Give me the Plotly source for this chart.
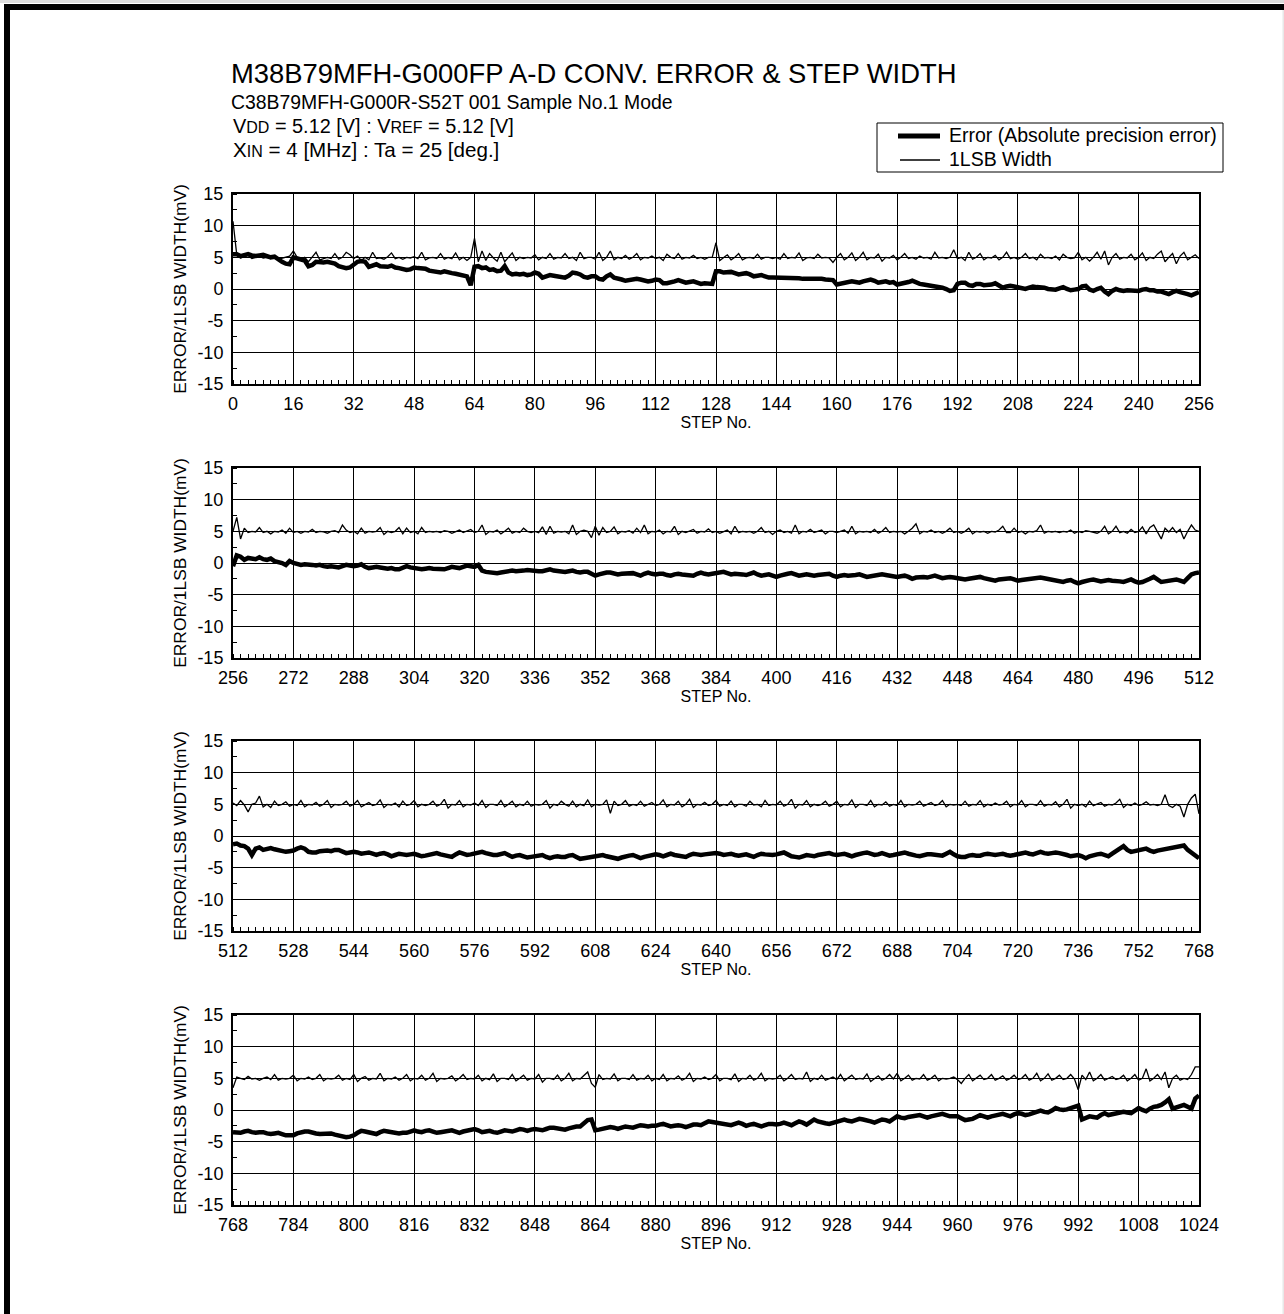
import plotly.graph_objects as go

# ---------------- data (mV per STEP No.) ----------------
# Absolute precision error, steps 0..256
err_0_256 = [
 5.5,5.5,5.2,5.3,5.5,5.3,5.2,5.3,5.4,5.2,5.0,5.1,4.6,4.3,4.0,3.9,
 5.0,4.8,4.6,4.5,3.6,3.8,4.3,4.2,4.2,4.3,4.1,4.0,3.6,3.4,3.3,3.4,
 3.8,4.3,4.4,4.3,3.5,3.7,3.9,3.6,3.6,3.5,3.7,3.4,3.3,3.1,3.0,3.1,
 3.4,3.3,3.2,3.2,2.9,2.8,2.6,2.6,2.8,2.6,2.5,2.4,2.3,2.2,2.0,0.6,
 3.5,3.6,3.3,3.4,3.0,3.1,2.8,2.9,3.6,2.6,2.3,2.4,2.3,2.4,2.2,2.3,
 2.6,2.4,1.8,2.0,2.2,2.1,2.0,1.9,1.8,2.1,2.6,2.5,2.3,1.9,1.8,2.0,
 2.0,1.6,1.5,2.0,2.3,1.8,1.7,1.5,1.3,1.4,1.5,1.6,1.5,1.3,1.2,1.3,
 1.5,1.4,0.9,0.9,1.0,1.2,1.4,1.2,1.0,1.1,1.2,1.0,0.8,0.9,0.9,0.8,
 2.8,2.8,2.6,2.6,2.7,2.5,2.3,2.4,2.5,2.3,2.0,2.1,2.2,2.0,1.8,1.8,
 1.8,1.8,1.7,1.8,1.8,1.7,1.7,1.6,1.6,1.7,1.7,1.6,1.6,1.5,1.5,1.4,
 0.7,0.8,1.0,1.1,1.2,1.1,1.0,1.2,1.3,1.5,1.3,1.0,1.1,1.2,1.0,1.1,
 0.7,0.8,0.9,1.1,1.3,1.0,0.8,0.7,0.6,0.5,0.5,0.3,0.2,0.0,-0.3,-0.2,
 0.8,1.0,1.0,0.6,0.5,0.8,0.8,0.6,0.6,0.7,0.9,0.6,0.2,0.4,0.5,0.4,
 0.3,0.2,0.0,0.2,0.4,0.3,0.3,0.2,0.0,-0.1,-0.1,0.1,0.3,0.0,-0.2,-0.1,
 0.0,0.4,0.5,-0.1,-0.3,0.0,0.2,-0.4,-0.8,-0.3,0.0,-0.2,-0.3,-0.2,-0.2,-0.3,
 -0.3,-0.1,0.0,-0.2,-0.2,-0.4,-0.4,-0.6,-0.8,-0.5,-0.3,-0.5,-0.6,-0.8,-1.0,-0.7,
 -0.5]
# 1LSB width, steps 0..256
wid_0_256 = [
 10.7,5.4,4.9,5.1,5.3,4.8,5.0,5.2,4.9,5.0,4.8,5.1,4.7,4.9,5.0,5.2,
 6.0,5.0,4.6,5.0,4.3,5.0,5.8,4.6,4.8,5.0,4.8,5.6,4.7,5.0,5.8,5.4,
 4.8,5.2,4.5,5.0,4.6,5.8,4.8,4.9,4.7,5.1,5.7,4.8,5.0,4.7,5.0,4.9,
 5.1,4.8,5.8,4.6,4.9,5.0,4.8,5.6,4.7,5.0,4.8,5.7,4.6,5.0,4.5,5.0,
 8.0,4.3,6.0,4.5,5.6,4.9,4.4,5.8,4.3,5.0,5.7,4.5,5.0,4.8,5.0,4.9,
 5.4,4.6,5.0,4.8,5.6,4.7,5.0,4.9,5.6,4.8,5.0,4.5,5.8,4.8,5.0,5.0,
 4.7,5.8,4.5,5.0,6.0,4.6,5.0,4.8,5.3,4.7,5.0,5.6,4.6,5.0,4.9,5.2,
 4.8,5.0,4.5,5.5,5.0,4.8,5.6,4.7,5.0,4.9,5.3,4.8,5.0,4.7,5.0,5.0,
 7.3,4.5,5.0,5.4,4.6,5.0,5.6,4.6,4.9,5.0,4.8,5.5,4.7,5.0,5.0,4.8,
 5.0,4.7,5.6,4.8,5.0,4.9,5.7,4.5,4.9,5.0,4.8,5.5,4.9,5.0,4.9,4.2,
 5.0,5.6,4.6,5.0,5.7,4.5,5.0,5.8,4.6,5.0,4.9,5.5,4.4,5.0,4.9,5.3,
 4.6,5.0,5.6,4.8,5.0,4.7,5.2,4.9,5.0,4.7,5.8,4.9,5.0,4.8,5.0,6.2,
 4.8,5.0,4.5,5.8,4.7,5.0,5.6,4.6,5.0,4.9,5.3,4.6,5.0,5.8,4.8,5.0,
 4.7,5.0,5.6,4.8,5.0,4.6,5.5,4.9,5.0,4.8,5.2,4.6,5.5,5.0,4.8,4.9,
 5.8,4.6,5.0,4.4,5.0,5.8,4.7,6.0,3.8,5.0,5.6,4.7,5.0,4.9,5.5,4.6,
 5.0,5.7,4.5,5.0,4.8,5.5,6.0,4.3,5.0,5.6,4.0,5.2,5.8,4.6,5.0,5.4,
 4.8]

err_256_512 = [
 -0.5,1.2,1.0,0.5,0.8,0.7,0.6,0.9,0.6,0.5,0.7,0.3,0.2,0.0,-0.3,0.3,
 0.0,-0.1,-0.3,-0.2,-0.2,-0.3,-0.4,-0.3,-0.5,-0.6,-0.5,-0.6,-0.7,-0.5,-0.3,-0.4,
 -0.5,-0.4,-0.2,-0.6,-0.8,-0.7,-0.6,-0.7,-0.8,-0.9,-0.8,-1.0,-1.0,-0.8,-0.5,-0.7,
 -0.8,-0.9,-1.0,-0.9,-0.8,-0.9,-0.9,-1.0,-1.0,-0.8,-0.6,-0.7,-0.8,-0.6,-0.4,-0.5,
 -0.6,-0.3,-1.2,-1.4,-1.5,-1.5,-1.6,-1.5,-1.4,-1.3,-1.2,-1.3,-1.3,-1.2,-1.1,-1.2,
 -1.2,-1.3,-1.3,-1.1,-1.0,-1.2,-1.3,-1.3,-1.4,-1.3,-1.2,-1.4,-1.5,-1.4,-1.4,-1.7,
 -2.0,-1.8,-1.6,-1.5,-1.5,-1.7,-1.8,-1.7,-1.7,-1.6,-1.6,-1.8,-2.0,-1.7,-1.5,-1.7,
 -1.8,-1.7,-1.7,-1.9,-2.0,-1.8,-1.7,-1.8,-1.9,-2.0,-2.0,-1.7,-1.5,-1.7,-1.8,-1.7,
 -1.6,-1.5,-1.4,-1.6,-1.8,-1.7,-1.7,-1.8,-1.9,-1.7,-1.5,-1.8,-2.0,-1.9,-1.8,-2.0,
 -2.2,-2.0,-1.8,-1.7,-1.6,-1.8,-2.0,-1.9,-1.8,-1.9,-2.0,-1.9,-1.8,-1.7,-1.7,-2.0,
 -2.2,-2.0,-1.9,-2.0,-2.0,-1.9,-1.8,-2.0,-2.2,-2.1,-2.0,-1.9,-1.8,-1.9,-2.0,-2.1,
 -2.2,-2.1,-2.0,-2.2,-2.5,-2.3,-2.2,-2.2,-2.3,-2.1,-2.0,-2.2,-2.4,-2.3,-2.2,-2.3,
 -2.4,-2.5,-2.6,-2.5,-2.4,-2.3,-2.2,-2.4,-2.5,-2.7,-2.8,-2.6,-2.5,-2.4,-2.4,-2.6,
 -2.8,-2.7,-2.6,-2.5,-2.5,-2.4,-2.3,-2.4,-2.5,-2.7,-2.8,-2.9,-3.0,-2.8,-2.7,-3.0,
 -3.2,-3.0,-2.8,-2.7,-2.6,-2.8,-2.9,-2.8,-2.7,-2.8,-2.8,-2.9,-3.0,-2.8,-2.6,-2.9,
 -3.1,-3.0,-2.8,-2.5,-2.2,-2.6,-3.0,-2.9,-2.8,-2.7,-2.6,-2.8,-3.0,-2.4,-1.8,-1.6,
 -1.5]
wid_256_512 = [
 5.0,7.2,3.8,5.5,4.8,5.0,4.9,5.6,4.8,5.0,4.6,5.0,4.9,5.2,4.7,5.5,
 4.8,5.0,4.7,5.0,4.9,5.3,4.8,5.0,4.9,4.7,5.0,5.1,4.8,6.0,5.2,4.8,
 5.0,4.6,5.5,4.7,5.0,4.9,5.0,5.6,4.5,5.0,4.8,5.0,5.6,4.6,5.5,4.8,
 5.0,4.6,5.6,4.8,5.0,4.9,5.0,4.8,5.1,5.0,4.7,5.0,5.2,4.8,5.0,5.3,
 4.8,5.0,6.0,4.5,5.0,4.9,5.2,4.6,5.0,5.5,4.7,5.0,4.8,5.5,5.0,4.8,
 5.0,4.8,5.7,4.5,5.8,4.7,5.0,4.9,5.0,4.6,6.0,4.5,5.0,5.2,5.0,4.0,
 5.8,4.4,5.6,4.8,5.0,5.7,4.6,5.0,4.9,5.1,4.7,5.5,4.8,6.0,4.6,5.0,
 4.9,5.2,4.6,5.0,4.9,5.8,4.5,5.0,4.8,5.0,5.3,4.7,5.0,4.9,5.4,4.8,
 5.0,4.7,5.0,5.2,4.6,5.8,4.8,5.0,4.9,5.0,4.7,5.0,5.6,4.8,5.0,4.5,
 5.0,5.2,4.8,5.0,4.7,6.0,4.6,5.0,4.9,5.3,4.8,5.0,5.2,4.6,5.0,5.0,
 4.8,5.0,5.2,4.7,5.8,4.6,5.0,4.9,5.0,4.8,5.3,4.7,5.0,5.6,4.8,5.0,
 4.9,5.0,4.6,5.0,5.5,6.2,4.6,5.0,4.9,5.2,4.8,5.0,4.7,5.0,5.5,4.8,
 5.0,4.7,5.0,5.5,4.6,5.0,4.9,5.0,4.7,5.0,4.9,5.2,5.8,4.8,4.8,5.5,
 4.8,5.0,4.6,5.0,4.9,5.1,6.0,4.7,5.0,4.9,5.0,4.8,5.0,4.9,5.2,4.7,
 5.0,4.8,5.1,5.0,4.9,4.7,5.0,5.8,4.6,5.0,5.8,4.8,5.0,4.7,5.3,4.8,
 5.0,5.7,4.6,5.6,6.0,4.8,3.8,5.5,4.9,5.6,4.8,5.3,3.8,5.0,6.0,5.2,
 5.0]

err_512_768 = [
 -1.3,-1.2,-1.5,-1.6,-2.0,-3.0,-2.0,-1.8,-2.2,-2.0,-1.9,-2.1,-2.2,-2.4,-2.5,-2.4,
 -2.3,-2.0,-1.8,-2.0,-2.5,-2.6,-2.6,-2.4,-2.3,-2.3,-2.4,-2.2,-2.2,-2.5,-2.7,-2.6,
 -2.5,-2.6,-2.8,-2.7,-2.6,-2.8,-3.0,-2.8,-2.7,-2.9,-3.2,-3.0,-2.8,-2.9,-3.0,-2.9,
 -2.8,-3.0,-3.2,-3.1,-3.0,-2.8,-2.7,-2.9,-3.0,-3.2,-3.3,-2.9,-2.6,-2.8,-3.0,-2.9,
 -2.8,-2.6,-2.5,-2.7,-2.9,-3.0,-3.0,-2.8,-2.7,-3.0,-3.3,-3.1,-3.0,-3.2,-3.4,-3.3,
 -3.2,-3.1,-3.0,-3.3,-3.5,-3.3,-3.2,-3.3,-3.3,-3.1,-3.0,-3.3,-3.6,-3.5,-3.4,-3.3,
 -3.2,-3.1,-3.0,-3.2,-3.3,-3.5,-3.6,-3.4,-3.2,-3.1,-3.0,-3.3,-3.5,-3.3,-3.2,-3.0,
 -2.9,-3.0,-3.2,-3.0,-2.8,-3.0,-3.1,-3.2,-3.3,-3.0,-2.8,-2.9,-3.0,-2.9,-2.8,-2.7,
 -2.7,-2.8,-3.0,-2.9,-2.8,-3.0,-3.1,-3.0,-2.9,-3.1,-3.3,-3.0,-2.8,-2.9,-3.0,-3.0,
 -2.9,-2.7,-2.6,-2.9,-3.2,-3.3,-3.4,-3.2,-3.0,-3.1,-3.2,-3.0,-2.9,-2.8,-2.7,-2.9,
 -3.0,-2.9,-2.8,-3.0,-3.2,-3.0,-2.8,-2.7,-2.6,-2.8,-3.0,-2.9,-2.7,-2.9,-3.1,-3.0,
 -2.9,-2.7,-2.6,-2.8,-3.0,-3.1,-3.2,-3.0,-2.9,-2.9,-3.0,-3.0,-3.1,-2.8,-2.5,-2.9,
 -3.2,-3.3,-3.3,-3.1,-3.0,-3.1,-3.1,-2.9,-2.8,-2.9,-3.0,-2.9,-2.8,-3.0,-3.1,-3.0,
 -2.9,-2.7,-2.6,-2.8,-2.9,-2.7,-2.5,-2.7,-2.8,-2.7,-2.6,-2.7,-2.8,-3.0,-3.2,-3.1,
 -3.0,-3.2,-3.5,-3.2,-3.0,-2.9,-2.8,-3.0,-3.2,-2.8,-2.5,-2.0,-1.6,-2.2,-2.5,-2.4,
 -2.3,-2.1,-2.0,-2.3,-2.5,-2.3,-2.2,-2.1,-2.0,-1.9,-1.8,-1.6,-1.5,-2.2,-2.6,-3.2,
 -3.5]
wid_512_768 = [
 5.2,4.8,5.6,4.9,3.8,5.0,5.2,6.3,4.6,5.0,4.5,5.5,4.8,5.0,5.4,4.7,
 5.0,4.8,5.6,4.6,5.0,4.9,5.3,4.7,5.0,5.6,4.5,5.0,4.9,5.0,5.5,4.7,
 5.0,5.6,4.6,5.0,5.3,4.8,5.0,5.7,4.5,5.0,4.9,5.2,4.6,5.5,4.8,5.0,
 5.6,4.6,5.0,4.8,5.0,5.5,4.7,5.0,5.8,4.4,5.0,4.9,5.6,4.6,5.0,4.9,
 5.2,4.8,5.6,4.5,5.0,5.0,4.8,5.6,4.6,5.0,5.5,4.6,5.0,4.8,5.5,4.7,
 5.0,4.9,5.0,5.6,4.4,5.0,4.8,5.5,5.0,4.7,5.5,4.6,5.0,4.8,5.7,4.6,
 5.0,4.9,5.0,5.7,3.6,5.5,4.8,5.0,5.6,4.7,5.0,4.8,5.5,4.7,5.0,5.3,
 4.8,5.0,5.7,4.6,5.0,4.9,5.5,4.6,5.0,5.8,4.5,5.0,4.9,5.3,4.8,5.0,
 5.6,4.7,5.0,4.8,5.5,4.6,5.0,5.0,4.7,5.5,4.9,5.0,4.6,5.6,4.8,5.0,
 4.9,5.5,4.7,5.0,5.8,4.4,5.0,4.9,5.6,4.6,5.0,4.8,5.0,5.5,4.7,5.0,
 5.5,4.6,5.0,4.9,5.7,4.5,5.0,5.0,4.8,5.6,4.6,5.0,4.9,5.4,4.7,5.0,
 4.8,5.6,4.6,5.0,4.9,5.0,5.5,4.7,5.0,5.3,4.8,5.0,5.6,4.6,5.0,4.9,
 5.0,4.8,5.5,4.7,5.0,4.9,5.6,4.6,5.0,4.8,5.2,4.9,5.0,5.5,4.6,5.0,
 4.9,5.6,4.6,5.0,5.0,4.8,5.6,4.7,5.0,4.9,5.4,4.6,5.0,5.8,4.4,5.0,
 4.8,5.0,4.6,5.5,4.8,5.0,5.3,4.7,5.0,4.9,5.2,5.8,4.5,5.0,4.8,5.2,
 4.8,5.0,5.4,4.9,5.0,4.8,5.0,6.5,4.8,4.5,5.0,4.7,3.0,5.0,6.0,6.6,
 3.5]

err_768_1024 = [
 -3.5,-3.6,-3.6,-3.4,-3.3,-3.5,-3.6,-3.5,-3.5,-3.7,-3.8,-3.7,-3.6,-3.8,-4.0,-4.0,
 -4.0,-3.7,-3.5,-3.4,-3.4,-3.6,-3.7,-3.8,-3.8,-3.7,-3.7,-3.9,-4.0,-4.2,-4.3,-4.2,
 -4.0,-3.6,-3.3,-3.4,-3.5,-3.7,-3.8,-3.5,-3.3,-3.4,-3.5,-3.6,-3.7,-3.6,-3.6,-3.4,
 -3.2,-3.4,-3.5,-3.3,-3.2,-3.4,-3.6,-3.5,-3.4,-3.3,-3.2,-3.4,-3.6,-3.4,-3.3,-3.1,
 -3.0,-3.2,-3.5,-3.4,-3.3,-3.5,-3.6,-3.4,-3.2,-3.3,-3.4,-3.2,-3.0,-3.1,-3.3,-3.1,
 -3.0,-3.1,-3.2,-3.0,-2.8,-2.8,-2.9,-3.0,-3.1,-2.9,-2.7,-2.6,-2.6,-2.0,-1.6,-1.5,
 -3.2,-3.1,-3.0,-2.8,-2.7,-2.8,-3.0,-2.8,-2.6,-2.7,-2.8,-2.6,-2.4,-2.5,-2.6,-2.5,
 -2.5,-2.3,-2.2,-2.4,-2.6,-2.5,-2.4,-2.5,-2.7,-2.5,-2.3,-2.3,-2.4,-2.1,-1.8,-1.9,
 -2.0,-2.1,-2.2,-2.3,-2.4,-2.2,-2.0,-2.2,-2.5,-2.3,-2.2,-2.4,-2.6,-2.4,-2.2,-2.2,
 -2.3,-2.2,-2.0,-2.2,-2.4,-2.1,-1.8,-2.0,-2.3,-1.9,-1.5,-1.8,-2.0,-2.1,-2.2,-2.0,
 -1.8,-1.6,-1.5,-1.7,-1.8,-1.6,-1.4,-1.5,-1.6,-1.8,-2.0,-1.7,-1.5,-1.6,-1.8,-1.4,
 -1.0,-1.2,-1.3,-1.1,-1.0,-0.9,-0.8,-1.0,-1.2,-1.0,-0.9,-0.8,-0.6,-0.8,-1.0,-1.0,
 -1.0,-1.3,-1.6,-1.5,-1.4,-1.1,-0.8,-1.0,-1.2,-1.0,-0.9,-0.8,-0.6,-0.8,-1.0,-0.7,
 -0.5,-0.6,-0.8,-0.7,-0.5,-0.3,-0.1,-0.3,-0.4,-0.1,0.3,0.1,0.0,0.1,0.3,0.5,
 0.7,-1.5,-1.2,-1.0,-1.1,-1.2,-0.8,-0.5,-0.8,-0.7,-0.5,-0.4,-0.3,-0.4,-0.5,-0.1,
 0.3,0.0,-0.2,0.2,0.5,0.6,0.8,1.2,1.7,0.2,0.4,0.5,0.8,0.5,0.2,1.8,
 2.3]
wid_768_1024 = [
 3.5,5.2,5.0,4.8,5.3,4.9,5.0,4.7,5.0,5.2,4.8,5.6,4.7,5.0,4.9,5.0,
 5.5,4.6,5.0,4.9,5.2,4.8,5.0,5.6,4.6,5.0,4.9,5.0,5.5,4.7,5.0,4.8,
 5.6,4.5,5.0,5.3,4.7,5.0,4.9,5.8,4.6,5.0,4.9,5.2,4.7,5.0,5.6,4.6,
 5.0,4.9,5.5,4.7,5.0,5.8,4.5,5.0,4.9,5.0,5.4,4.6,5.0,5.6,4.8,5.0,
 4.9,5.5,4.6,5.0,4.8,5.7,4.5,5.0,5.0,4.8,5.6,4.6,5.0,5.5,4.7,5.0,
 4.9,5.6,4.4,5.0,5.0,4.8,5.5,4.6,5.0,5.8,4.6,5.0,4.9,5.5,6.0,4.2,
 3.6,5.6,4.8,5.0,4.9,5.7,4.6,5.0,5.0,4.8,5.6,4.7,5.0,4.9,5.5,4.6,
 5.0,4.8,5.6,4.6,5.0,4.9,5.4,4.7,5.0,5.8,4.5,5.0,4.9,5.2,4.8,5.0,
 5.6,4.6,5.0,5.0,4.8,5.7,4.5,5.0,4.9,5.5,4.7,5.0,5.8,4.6,5.0,4.9,
 5.0,5.5,4.6,5.0,5.6,4.8,5.0,4.9,6.0,4.5,5.0,4.8,5.5,4.7,5.0,5.2,
 4.8,5.6,4.6,5.0,5.5,4.8,5.0,4.9,5.7,4.5,5.0,5.4,4.7,5.0,5.6,4.9,
 5.8,4.6,5.0,5.5,4.7,5.0,4.9,5.6,4.7,5.0,5.5,4.6,5.0,4.9,5.0,5.2,
 4.8,4.2,5.0,5.6,4.6,5.0,5.5,4.8,5.0,5.6,4.7,5.0,5.4,4.7,5.0,5.5,
 4.8,5.0,5.6,4.7,5.0,5.8,4.6,5.0,5.7,4.7,5.0,5.5,4.8,5.0,5.6,4.9,
 3.2,5.5,4.8,6.0,4.6,5.0,5.6,4.7,5.0,5.3,4.8,5.0,5.5,4.6,5.0,5.6,
 4.7,5.0,6.5,4.6,5.0,5.6,4.8,6.0,3.5,5.0,5.5,4.7,5.0,4.8,5.6,6.8,
 6.8]

panel_starts = [0, 256, 512, 768]
panel_err = [err_0_256, err_256_512, err_512_768, err_768_1024]
panel_wid = [wid_0_256, wid_256_512, wid_512_768, wid_768_1024]
y_tickvals = [-15, -10, -5, 0, 5, 10, 15]
y_ticktext = ["-15", "-10", "-5", "0", "5", "10", "15"]

# ---------------- layout helpers (page pixel -> paper) ----------------
W, H = 1284, 1314
FONT = "Liberation Sans, Arial, sans-serif"

def px(x):
    return x / W

def py(y):
    return 1 - y / H

panel_px = [(194, 384), (468, 658), (741, 931), (1015, 1205)]
X0, X1 = 233, 1199

fig = go.Figure()
for i, lo in enumerate(panel_starts):
    xa = "x" if i == 0 else f"x{i+1}"
    ya = "y" if i == 0 else f"y{i+1}"
    steps = list(range(lo, lo + len(panel_err[i])))
    fig.add_trace(go.Scatter(x=steps, y=panel_err[i], xaxis=xa, yaxis=ya, mode="lines",
                             line=dict(color="black", width=4.5),
                             name="Error (Absolute precision error)", showlegend=False))
    steps_w = list(range(lo, lo + len(panel_wid[i])))
    fig.add_trace(go.Scatter(x=steps_w, y=panel_wid[i], xaxis=xa, yaxis=ya, mode="lines",
                             line=dict(color="black", width=1.3),
                             name="1LSB Width", showlegend=False))

    top, bot = panel_px[i]
    xkey = "xaxis" if i == 0 else f"xaxis{i+1}"
    ykey = "yaxis" if i == 0 else f"yaxis{i+1}"
    fig.layout[xkey] = dict(
        domain=[px(X0), px(X1)], anchor=ya, range=[lo, lo + 256], automargin=False,
        tickvals=list(range(lo, lo + 257, 16)), showgrid=True, gridcolor="black", gridwidth=1,
        showline=True, mirror=True, linecolor="black", linewidth=2, zeroline=False,
        ticks="", ticklabelstandoff=2,
        minor=dict(ticks="inside", tick0=lo, dtick=2, ticklen=4, tickcolor="black", tickwidth=1, showgrid=False),
        tickfont=dict(family=FONT, size=18, color="black"),
        title=dict(text="STEP No.", font=dict(family=FONT, size=16, color="black"), standoff=0),
    )
    fig.layout[ykey] = dict(
        domain=[py(bot), py(top)], anchor=xa, range=[-15, 15], automargin=False,
        tickvals=y_tickvals, ticktext=y_ticktext, showgrid=True, gridcolor="black", gridwidth=1,
        showline=True, mirror=True, linecolor="black", linewidth=2, zeroline=False,
        ticks="", ticklabelstandoff=4,
        minor=dict(ticks="inside", tick0=-15, dtick=2.5, ticklen=4, tickcolor="black", tickwidth=1, showgrid=False),
        tickfont=dict(family=FONT, size=18, color="black"),
        title=dict(text="ERROR/1LSB WIDTH(mV)", font=dict(family=FONT, size=17.4, color="black"), standoff=6),
    )

def note(text, x, y, size):
    fig.add_annotation(text=text, xref="paper", yref="paper", x=px(x), y=py(y),
                       xanchor="left", yanchor="middle", showarrow=False,
                       font=dict(family=FONT, size=size, color="black"))

sm = "font-size:16px"
note("M38B79MFH-G000FP A-D CONV. ERROR &amp; STEP WIDTH", 229, 73, 27.4)
note("C38B79MFH-G000R-S52T 001 Sample No.1 Mode", 229, 102, 19.4)
note(f"V<span style='{sm}'>DD</span> = 5.12 [V] : V<span style='{sm}'>REF</span> = 5.12 [V]", 231, 126, 19.9)
note(f"X<span style='{sm}'>IN</span> = 4 [MHz] : Ta = 25 [deg.]", 231, 150, 20.6)

# legend box (drawn to match the reference placement)
fig.add_shape(type="rect", xref="paper", yref="paper", x0=px(877), x1=px(1223), y0=py(172), y1=py(123),
              line=dict(color="black", width=1), fillcolor="white")
fig.add_shape(type="line", xref="paper", yref="paper", x0=px(898), x1=px(940), y0=py(136), y1=py(136),
              line=dict(color="black", width=5))
fig.add_shape(type="line", xref="paper", yref="paper", x0=px(900), x1=px(940), y0=py(160), y1=py(160),
              line=dict(color="black", width=1.3))
note("Error (Absolute precision error)", 947, 135, 19.5)
note("1LSB Width", 947, 159, 19.5)

# page border (light strip on top, thick black top and left edges, faint right edge)
fig.add_shape(type="rect", xref="paper", yref="paper", x0=0, x1=1, y0=py(3), y1=1,
              fillcolor="#dcdcdc", line=dict(width=0), layer="above")
fig.add_shape(type="rect", xref="paper", yref="paper", x0=px(4), x1=1, y0=py(10), y1=py(4),
              fillcolor="black", line=dict(width=0), layer="above")
fig.add_shape(type="rect", xref="paper", yref="paper", x0=px(4), x1=px(10), y0=0, y1=py(4),
              fillcolor="black", line=dict(width=0), layer="above")
fig.add_shape(type="rect", xref="paper", yref="paper", x0=px(1282.5), x1=1, y0=0, y1=py(10),
              fillcolor="#e8e8e8", line=dict(width=0), layer="above")

fig.update_layout(
    width=W, height=H, margin=dict(l=0, r=0, t=0, b=0, autoexpand=False),
    paper_bgcolor="white", plot_bgcolor="white", showlegend=False,
)

fig.write_html("out.html", config={"displayModeBar": False},
               post_script="document.body.style.margin='0';")
